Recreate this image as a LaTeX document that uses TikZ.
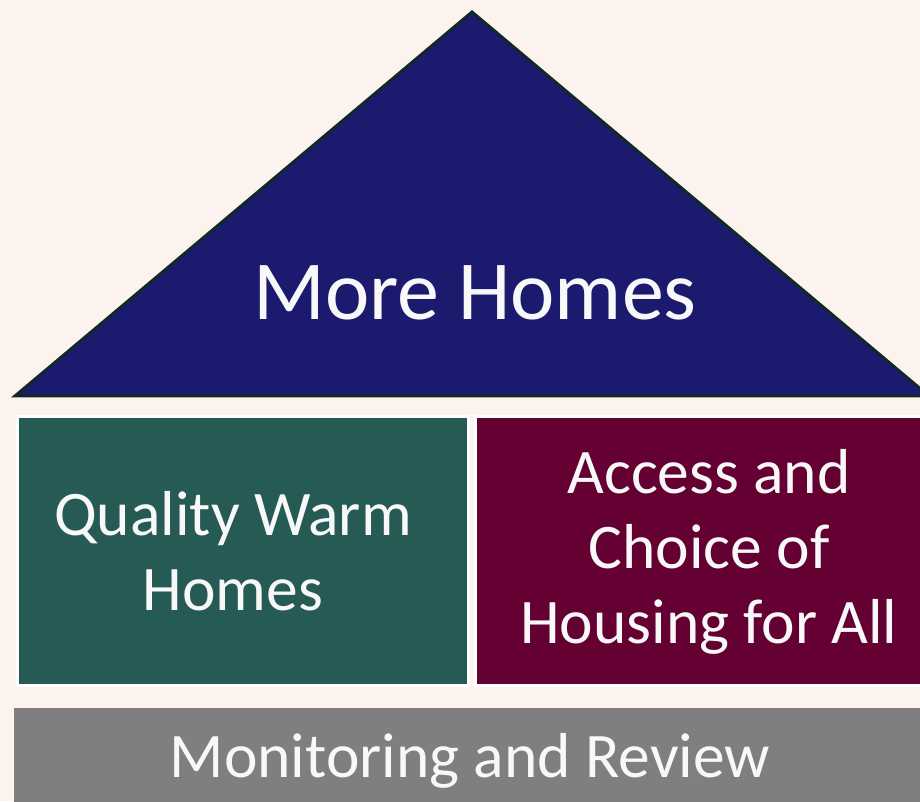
\documentclass[tikz,border=0pt]{standalone}
\usepackage{fontspec}
\setmainfont{Carlito}
\definecolor{bgc}{HTML}{FDF3EE}
\definecolor{navy}{HTML}{1C1A6E}
\definecolor{edgec}{HTML}{10282A}
\definecolor{greenc}{HTML}{265A54}
\definecolor{maroonc}{HTML}{650033}
\definecolor{grayc}{HTML}{7F7F7F}
\definecolor{txtc}{HTML}{F8F8F8}
\tikzset{
  roof/.style={fill=navy, draw=edgec, line width=3pt, line join=miter},
  pillar/.style={draw=white, line width=3pt},
  bigtxt/.style={text=txtc, inner sep=0pt, font=\fontsize{84}{100}\selectfont},
  boxtxt/.style={text=txtc, inner sep=0pt, align=center, font=\fontsize{63.5}{75}\selectfont},
}
\begin{document}
\begin{tikzpicture}[x=1pt,y=1pt]
\useasboundingbox (0,0) rectangle (920,801);
\fill[bgc] (0,0) rectangle (920,801);
\clip (0,0) rectangle (920,801);
% roof
\coordinate (rl) at (15,405);
\coordinate (ra) at (472,789);
\coordinate (rr) at (929,405);
\draw[roof] (rl) -- (ra) -- (rr) -- cycle;
\node[bigtxt, anchor=base] (more) at (475,481) {More Homes};
% pillars
\path[pillar, fill=greenc] (17.5,384.5) rectangle (468.5,115.5);
\path[pillar, fill=maroonc] (475,384.5) rectangle (945,115.5);
\node[boxtxt, anchor=base] (qwh) at (233,191) {Quality Warm\\Homes};
\node[boxtxt, anchor=base] (acc) at (709,158) {Access and\\Choice of\\Housing for All};
% foundation
\fill[grayc] (14,93) rectangle (930,-5);
\node[boxtxt, anchor=base] (mon) at (470,24) {Monitoring and Review};
\end{tikzpicture}
\end{document}
